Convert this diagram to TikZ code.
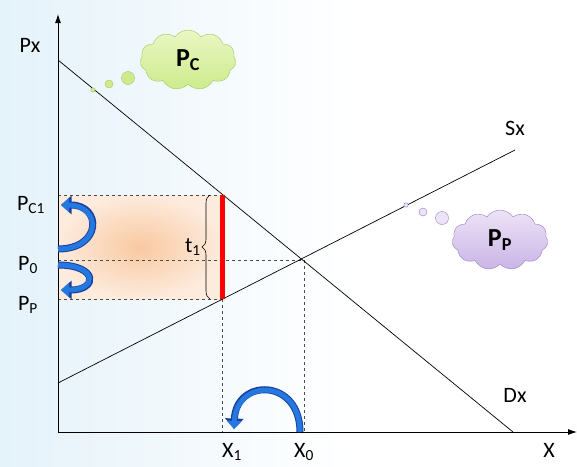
\documentclass[tikz,border=0pt]{standalone}
\usepackage{fontspec}
\setmainfont{Carlito}
\usetikzlibrary{arrows.meta, positioning, shapes.symbols, decorations.pathreplacing}
\definecolor{bgblue}{HTML}{BEE0F3}
\definecolor{bgmid}{HTML}{E0F0F9}
\definecolor{boxin}{HTML}{F9C9A0}
\definecolor{boxout}{HTML}{FDEBDD}
\definecolor{arrowblue}{HTML}{2479E0}
\definecolor{arrowdark}{HTML}{1C3F9C}
\definecolor{greenfill}{HTML}{EAF7C4}
\definecolor{greenfillb}{HTML}{CDEB8C}
\definecolor{greenline}{HTML}{9DC862}
\definecolor{purplefill}{HTML}{EDE3F7}
\definecolor{purplefillb}{HTML}{CAB4E6}
\definecolor{purpleline}{HTML}{9A7EC6}
\pgfdeclarehorizontalshading{bgfade}{100bp}{color(0bp)=(bgblue); color(20bp)=(bgmid); color(55bp)=(white); color(100bp)=(white)}

\begin{document}
\begin{tikzpicture}[
  x=1pt, y=-1pt,
  font=\fontsize{22}{26}\selectfont,
  axis/.style={line width=0.9pt, -{Latex[length=9pt,width=6pt]}},
  curve/.style={line width=0.7pt},
  guide/.style={dashed, line width=0.6pt, black!70},
  lbl/.style={inner sep=0pt},
  swing/.style={line width=5pt, arrowblue, -{Triangle[length=8pt,width=14pt]},
    preaction={draw=arrowdark, line width=7pt, -{Triangle[length=10.5pt,width=18pt]}}},
  thought/.style={cloud, cloud puffs=11, cloud puff arc=110, aspect=1.6,
    minimum width=96pt, minimum height=60pt, inner sep=0pt,
    font=\fontsize{26}{30}\selectfont\bfseries},
]
% background
\useasboundingbox (0,0) rectangle (577,466);
\shade[shading=bgfade] (0,0) rectangle (577,466);

% points
\coordinate (O) at (58,432);
\coordinate (ytop) at (58,14);
\coordinate (xend) at (577,432);
\coordinate (dtop) at (58,60);
\coordinate (dbot) at (513,432);
\coordinate (sbot) at (58,383);
\coordinate (stop) at (515,150);
\coordinate (pc) at (58,195);
\coordinate (p0) at (58,260);
\coordinate (pp) at (58,299);
\coordinate (E) at (304,260);
\coordinate (tc) at (222,195);
\coordinate (tp) at (222,299);
\coordinate (x1) at (222,432);
\coordinate (x0) at (304,432);

% tax wedge area
\shade[inner color=boxin, outer color=boxout] (pc) rectangle (tp);

% guides
\draw[guide] (pc) -- (tc);
\draw[guide] (p0) -- (E);
\draw[guide] (pp) -- (tp);
\draw[guide] (tp) -- (x1);
\draw[guide] (E) -- (x0);

% axes and curves
\draw[axis] (O) -- (ytop);
\draw[axis] (O) -- (xend);
\draw[curve] (dtop) -- (dbot);
\draw[curve] (sbot) -- (stop);

% tax
\draw[line width=5pt, red] (tc) -- (tp);
\draw[decorate, decoration={brace, amplitude=8pt}, line width=0.6pt]
  (210,299) -- (210,195) node[midway, left=9pt, lbl] (t1) {t\textsubscript{1}};

% labels
\node[lbl] (Px) at (30,45) {Px};
\node[lbl] (Sx) at (515,128) {Sx};
\node[lbl] (Dx) at (515,395) {Dx};
\node[lbl] (X) at (549,450) {X};
\node[lbl] (Pc1) at (31,205) {P\textsubscript{C1}};
\node[lbl] (P0) at (28,265) {P\textsubscript{0}};
\node[lbl] (Pp) at (28,305) {P\textsubscript{P}};
\node[lbl] (X1) at (232,452) {X\textsubscript{1}};
\node[lbl] (X0) at (304,452) {X\textsubscript{0}};

% price and quantity swings
\draw[swing] (58,249) .. controls (102,249) and (102,205) .. (61,205);
\draw[swing] (58,265) .. controls (98,265) and (98,290) .. (61,290);
\draw[swing] (300,432) .. controls (300,378) and (236,378) .. (234,429);

% thought clouds
\node[thought, draw=greenline, top color=greenfill, bottom color=greenfillb] (cloudC) at (188,60) {P\textsubscript{C}};
\fill[greenfillb, draw=greenline] (128,78) circle (6.5);
\fill[greenfillb, draw=greenline] (109,84) circle (4);
\fill[greenfillb, draw=greenline] (93,90) circle (2.2);
\node[thought, draw=purpleline, top color=purplefill, bottom color=purplefillb] (cloudP) at (500,240) {P\textsubscript{P}};
\fill[purplefill, draw=purpleline] (442,218) circle (6.5);
\fill[purplefill, draw=purpleline] (423,212) circle (4);
\fill[purplefill, draw=purpleline] (406,205) circle (2.2);
\end{tikzpicture}
\end{document}
